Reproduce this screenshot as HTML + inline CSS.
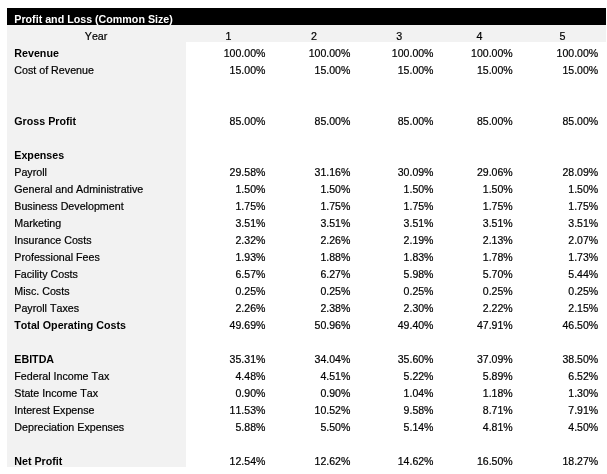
<!DOCTYPE html>
<html><head><meta charset="utf-8"><title>Profit and Loss</title>
<style>
html,body{margin:0;padding:0;background:#fff;}
body{width:607px;height:474px;position:relative;overflow:hidden;font-family:"Liberation Sans",sans-serif;font-size:10.7px;color:#000;}
.bar{position:absolute;left:7px;top:8px;width:599px;height:17px;background:#000;}
.yr{position:absolute;left:7px;top:25px;width:599px;height:17px;background:#f2f2f2;}
.col{position:absolute;left:7px;top:25px;width:179px;height:442px;background:#f2f2f2;}
.t{position:absolute;font-kerning:none;white-space:nowrap;line-height:17px;height:17px;}
.t{-webkit-text-stroke:0.2px #000;}
.b{font-weight:bold;-webkit-text-stroke:0;}
.r{text-align:right;font-size:10.55px;}
.c{text-align:center;}
.w{color:#fff;}
</style></head><body>
<div id="wrap" style="position:absolute;left:0;top:0;width:607px;height:474px;will-change:transform;"><div class="bar"></div><div class="yr"></div><div class="col"></div>
<div class="t b w" style="left:14.3px;top:11px">Profit and Loss (Common Size)</div>
<div class="t c" style="left:6.6px;width:179px;top:28px">Year</div>
<div class="t c" style="left:208.5px;width:40px;top:28px">1</div>
<div class="t c" style="left:294px;width:40px;top:28px">2</div>
<div class="t c" style="left:379.3px;width:40px;top:28px">3</div>
<div class="t c" style="left:459.6px;width:40px;top:28px">4</div>
<div class="t c" style="left:542.4px;width:40px;top:28px">5</div>
<div class="t b" style="left:14.3px;top:45px">Revenue</div>
<div class="t r" style="left:185.39999999999998px;width:80px;top:45px">100.00%</div>
<div class="t r" style="left:270.3px;width:80px;top:45px">100.00%</div>
<div class="t r" style="left:353.5px;width:80px;top:45px">100.00%</div>
<div class="t r" style="left:432.70000000000005px;width:80px;top:45px">100.00%</div>
<div class="t r" style="left:518.2px;width:80px;top:45px">100.00%</div>
<div class="t" style="left:14.3px;top:62px">Cost of Revenue</div>
<div class="t r" style="left:185.39999999999998px;width:80px;top:62px">15.00%</div>
<div class="t r" style="left:270.3px;width:80px;top:62px">15.00%</div>
<div class="t r" style="left:353.5px;width:80px;top:62px">15.00%</div>
<div class="t r" style="left:432.70000000000005px;width:80px;top:62px">15.00%</div>
<div class="t r" style="left:518.2px;width:80px;top:62px">15.00%</div>
<div class="t b" style="left:14.3px;top:113px">Gross Profit</div>
<div class="t r" style="left:185.39999999999998px;width:80px;top:113px">85.00%</div>
<div class="t r" style="left:270.3px;width:80px;top:113px">85.00%</div>
<div class="t r" style="left:353.5px;width:80px;top:113px">85.00%</div>
<div class="t r" style="left:432.70000000000005px;width:80px;top:113px">85.00%</div>
<div class="t r" style="left:518.2px;width:80px;top:113px">85.00%</div>
<div class="t b" style="left:14.3px;top:147px">Expenses</div>
<div class="t" style="left:14.3px;top:164px">Payroll</div>
<div class="t r" style="left:185.39999999999998px;width:80px;top:164px">29.58%</div>
<div class="t r" style="left:270.3px;width:80px;top:164px">31.16%</div>
<div class="t r" style="left:353.5px;width:80px;top:164px">30.09%</div>
<div class="t r" style="left:432.70000000000005px;width:80px;top:164px">29.06%</div>
<div class="t r" style="left:518.2px;width:80px;top:164px">28.09%</div>
<div class="t" style="left:14.3px;top:181px">General and Administrative</div>
<div class="t r" style="left:185.39999999999998px;width:80px;top:181px">1.50%</div>
<div class="t r" style="left:270.3px;width:80px;top:181px">1.50%</div>
<div class="t r" style="left:353.5px;width:80px;top:181px">1.50%</div>
<div class="t r" style="left:432.70000000000005px;width:80px;top:181px">1.50%</div>
<div class="t r" style="left:518.2px;width:80px;top:181px">1.50%</div>
<div class="t" style="left:14.3px;top:198px">Business Development</div>
<div class="t r" style="left:185.39999999999998px;width:80px;top:198px">1.75%</div>
<div class="t r" style="left:270.3px;width:80px;top:198px">1.75%</div>
<div class="t r" style="left:353.5px;width:80px;top:198px">1.75%</div>
<div class="t r" style="left:432.70000000000005px;width:80px;top:198px">1.75%</div>
<div class="t r" style="left:518.2px;width:80px;top:198px">1.75%</div>
<div class="t" style="left:14.3px;top:215px">Marketing</div>
<div class="t r" style="left:185.39999999999998px;width:80px;top:215px">3.51%</div>
<div class="t r" style="left:270.3px;width:80px;top:215px">3.51%</div>
<div class="t r" style="left:353.5px;width:80px;top:215px">3.51%</div>
<div class="t r" style="left:432.70000000000005px;width:80px;top:215px">3.51%</div>
<div class="t r" style="left:518.2px;width:80px;top:215px">3.51%</div>
<div class="t" style="left:14.3px;top:232px">Insurance Costs</div>
<div class="t r" style="left:185.39999999999998px;width:80px;top:232px">2.32%</div>
<div class="t r" style="left:270.3px;width:80px;top:232px">2.26%</div>
<div class="t r" style="left:353.5px;width:80px;top:232px">2.19%</div>
<div class="t r" style="left:432.70000000000005px;width:80px;top:232px">2.13%</div>
<div class="t r" style="left:518.2px;width:80px;top:232px">2.07%</div>
<div class="t" style="left:14.3px;top:249px">Professional Fees</div>
<div class="t r" style="left:185.39999999999998px;width:80px;top:249px">1.93%</div>
<div class="t r" style="left:270.3px;width:80px;top:249px">1.88%</div>
<div class="t r" style="left:353.5px;width:80px;top:249px">1.83%</div>
<div class="t r" style="left:432.70000000000005px;width:80px;top:249px">1.78%</div>
<div class="t r" style="left:518.2px;width:80px;top:249px">1.73%</div>
<div class="t" style="left:14.3px;top:266px">Facility Costs</div>
<div class="t r" style="left:185.39999999999998px;width:80px;top:266px">6.57%</div>
<div class="t r" style="left:270.3px;width:80px;top:266px">6.27%</div>
<div class="t r" style="left:353.5px;width:80px;top:266px">5.98%</div>
<div class="t r" style="left:432.70000000000005px;width:80px;top:266px">5.70%</div>
<div class="t r" style="left:518.2px;width:80px;top:266px">5.44%</div>
<div class="t" style="left:14.3px;top:283px">Misc. Costs</div>
<div class="t r" style="left:185.39999999999998px;width:80px;top:283px">0.25%</div>
<div class="t r" style="left:270.3px;width:80px;top:283px">0.25%</div>
<div class="t r" style="left:353.5px;width:80px;top:283px">0.25%</div>
<div class="t r" style="left:432.70000000000005px;width:80px;top:283px">0.25%</div>
<div class="t r" style="left:518.2px;width:80px;top:283px">0.25%</div>
<div class="t" style="left:14.3px;top:300px">Payroll Taxes</div>
<div class="t r" style="left:185.39999999999998px;width:80px;top:300px">2.26%</div>
<div class="t r" style="left:270.3px;width:80px;top:300px">2.38%</div>
<div class="t r" style="left:353.5px;width:80px;top:300px">2.30%</div>
<div class="t r" style="left:432.70000000000005px;width:80px;top:300px">2.22%</div>
<div class="t r" style="left:518.2px;width:80px;top:300px">2.15%</div>
<div class="t b" style="left:14.3px;top:317px">Total Operating Costs</div>
<div class="t r" style="left:185.39999999999998px;width:80px;top:317px">49.69%</div>
<div class="t r" style="left:270.3px;width:80px;top:317px">50.96%</div>
<div class="t r" style="left:353.5px;width:80px;top:317px">49.40%</div>
<div class="t r" style="left:432.70000000000005px;width:80px;top:317px">47.91%</div>
<div class="t r" style="left:518.2px;width:80px;top:317px">46.50%</div>
<div class="t b" style="left:14.3px;top:351px">EBITDA</div>
<div class="t r" style="left:185.39999999999998px;width:80px;top:351px">35.31%</div>
<div class="t r" style="left:270.3px;width:80px;top:351px">34.04%</div>
<div class="t r" style="left:353.5px;width:80px;top:351px">35.60%</div>
<div class="t r" style="left:432.70000000000005px;width:80px;top:351px">37.09%</div>
<div class="t r" style="left:518.2px;width:80px;top:351px">38.50%</div>
<div class="t" style="left:14.3px;top:368px">Federal Income Tax</div>
<div class="t r" style="left:185.39999999999998px;width:80px;top:368px">4.48%</div>
<div class="t r" style="left:270.3px;width:80px;top:368px">4.51%</div>
<div class="t r" style="left:353.5px;width:80px;top:368px">5.22%</div>
<div class="t r" style="left:432.70000000000005px;width:80px;top:368px">5.89%</div>
<div class="t r" style="left:518.2px;width:80px;top:368px">6.52%</div>
<div class="t" style="left:14.3px;top:385px">State Income Tax</div>
<div class="t r" style="left:185.39999999999998px;width:80px;top:385px">0.90%</div>
<div class="t r" style="left:270.3px;width:80px;top:385px">0.90%</div>
<div class="t r" style="left:353.5px;width:80px;top:385px">1.04%</div>
<div class="t r" style="left:432.70000000000005px;width:80px;top:385px">1.18%</div>
<div class="t r" style="left:518.2px;width:80px;top:385px">1.30%</div>
<div class="t" style="left:14.3px;top:402px">Interest Expense</div>
<div class="t r" style="left:185.39999999999998px;width:80px;top:402px">11.53%</div>
<div class="t r" style="left:270.3px;width:80px;top:402px">10.52%</div>
<div class="t r" style="left:353.5px;width:80px;top:402px">9.58%</div>
<div class="t r" style="left:432.70000000000005px;width:80px;top:402px">8.71%</div>
<div class="t r" style="left:518.2px;width:80px;top:402px">7.91%</div>
<div class="t" style="left:14.3px;top:419px">Depreciation Expenses</div>
<div class="t r" style="left:185.39999999999998px;width:80px;top:419px">5.88%</div>
<div class="t r" style="left:270.3px;width:80px;top:419px">5.50%</div>
<div class="t r" style="left:353.5px;width:80px;top:419px">5.14%</div>
<div class="t r" style="left:432.70000000000005px;width:80px;top:419px">4.81%</div>
<div class="t r" style="left:518.2px;width:80px;top:419px">4.50%</div>
<div class="t b" style="left:14.3px;top:453px">Net Profit</div>
<div class="t r" style="left:185.39999999999998px;width:80px;top:453px">12.54%</div>
<div class="t r" style="left:270.3px;width:80px;top:453px">12.62%</div>
<div class="t r" style="left:353.5px;width:80px;top:453px">14.62%</div>
<div class="t r" style="left:432.70000000000005px;width:80px;top:453px">16.50%</div>
<div class="t r" style="left:518.2px;width:80px;top:453px">18.27%</div>
</div></body></html>
